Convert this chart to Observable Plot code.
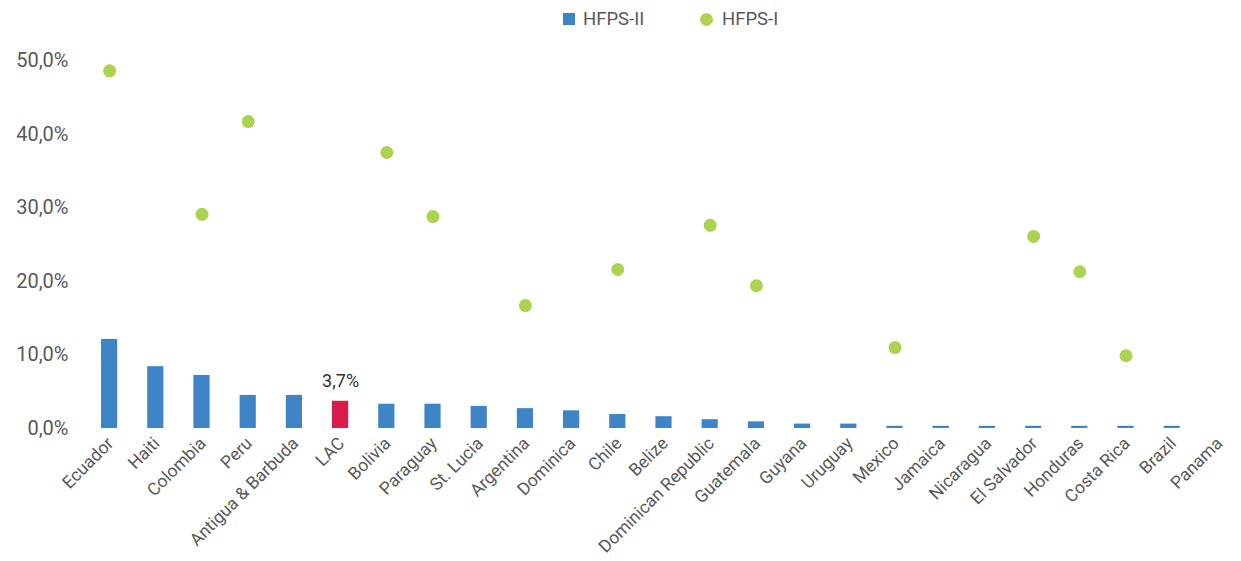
<!DOCTYPE html>
<html><head><meta charset="utf-8">
<script src="https://cdn.jsdelivr.net/npm/d3@7"></script>
<script src="https://cdn.jsdelivr.net/npm/@observablehq/plot@0.6"></script>
<style>
body{margin:0;background:#fff;font-family:Roboto,"Open Sans",sans-serif;}
#legend{position:relative;height:38px;color:#595959;font-size:18.5px;}
.item{position:absolute;top:0;height:38px;display:flex;align-items:center;}
.sq{width:12px;height:12px;background:#3d85c6;margin-right:8px;}
.ci{width:13px;height:13px;border-radius:50%;background:#acd350;margin-right:9px;}
</style></head>
<body>
<div id="legend"><div class="item" style="left:563px"><div class="sq"></div>HFPS-II</div><div class="item" style="left:700px"><div class="ci"></div>HFPS-I</div></div>
<div id="chart"></div>
<script>
const countries = ["Ecuador","Haiti","Colombia","Peru","Antigua & Barbuda","LAC","Bolivia","Paraguay","St. Lucia","Argentina","Dominica","Chile","Belize","Dominican Republic","Guatemala","Guyana","Uruguay","Mexico","Jamaica","Nicaragua","El Salvador","Honduras","Costa Rica","Brazil","Panama"];
const hfps2 = [12.1,8.4,7.2,4.5,4.5,3.7,3.3,3.3,3.0,2.7,2.4,1.9,1.6,1.2,0.9,0.6,0.6,0.3,0.3,0.3,0.3,0.3,0.3,0.3,0.0];
const hfps1 = [48.6,null,29.1,41.7,null,null,37.5,28.8,null,16.7,null,21.6,null,27.6,19.4,null,null,11.0,null,null,26.1,21.3,9.9,null,null];
const yTicks = [0,10,20,30,40,50];

const data = countries.map((c,i)=>({country:c, v2:hfps2[i], v1:hfps1[i]}));
const fmt = d => d.toFixed(1).replace(".", ",") + "%";

const chart = Plot.plot({
  width:1241, height:523,
  marginLeft:85, marginRight:0, marginTop:22, marginBottom:133,
  style:{fontFamily:"Roboto, 'Open Sans', sans-serif", color:"#595959", background:"#fff"},
  x:{domain:countries, range:[86,1241], round:false, paddingInner:0.65, paddingOuter:0.325, label:null},
  y:{domain:[0,50], label:null},
  marks:[
    Plot.ruleY([0],{stroke:"#d9d9d9", strokeWidth:2, x1:85, x2:1241}),
    Plot.barY(data,{x:"country", y:"v2", fill:d=>d.country==="LAC"?"#d81b4a":"#3d85c6"}),
    Plot.dot(data.filter(d=>d.v1!=null),{x:"country", y:"v1", r:6.5, fill:"#acd350"}),
    Plot.text(data.filter(d=>d.country==="LAC"),{x:"country", y:"v2", text:d=>fmt(d.v2), dy:-20, fontSize:18, fill:"#333"}),
    Plot.axisY({ticks:yTicks, tickFormat:fmt, tickSize:0, tickPadding:0, fontSize:20, dx:-17, anchor:"left"}),
    Plot.axisX({tickSize:0, tickRotate:-45, fontSize:17.5, tickPadding:12, dx:1})
  ]
});
document.getElementById("chart").appendChild(chart);
</script>
</body></html>
